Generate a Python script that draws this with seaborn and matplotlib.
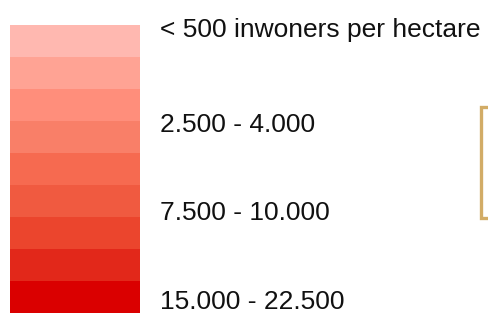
import numpy as np
import matplotlib.pyplot as plt
import seaborn as sns
from matplotlib.colors import ListedColormap

# legend classes (light -> dark)
band_colors = ["#FFB8B0", "#FFA394", "#FF8E7B", "#F97F68", "#F66A50",
               "#F05A40", "#EB452D", "#E2281A", "#DA0000"]
band_values = list(range(len(band_colors)))
labels = ["< 500 inwoners per hectare", "2.500 - 4.000", "7.500 - 10.000", "15.000 - 22.500"]
label_baselines = [37, 132, 220, 309]

sns.set_style("white")
plt.rcParams['font.family'] = ['Liberation Sans', 'DejaVu Sans']

fig = plt.figure(figsize=(4.89, 3.13), dpi=100)
ax = fig.add_axes([0, 0, 1, 1])
ax.set_xlim(0, 489)
ax.set_ylim(313, 0)
ax.axis("off")

# colour column
hax = fig.add_axes([10 / 489, 0, 130 / 489, 288 / 313])
sns.heatmap(np.array(band_values).reshape(-1, 1), cmap=ListedColormap(band_colors),
            cbar=False, xticklabels=False, yticklabels=False, ax=hax)
hax.axis("off")

for txt, y in zip(labels, label_baselines):
    ax.text(160, y, txt, fontsize=19, va="baseline", ha="left", color="#111111")

# bracket on the right
ax.plot([490, 481, 481, 490], [107, 107, 218, 218], color="#D2AC66", lw=2.4,
        solid_joinstyle="miter")

fig.savefig("out.png", dpi=100)
